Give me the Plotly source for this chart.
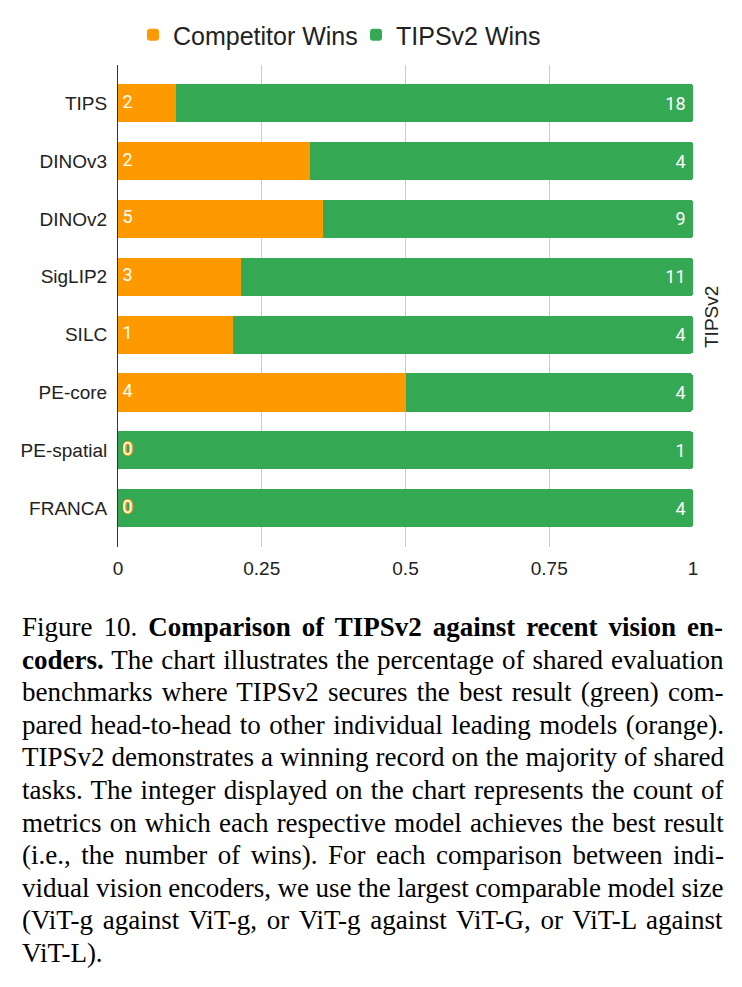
import plotly.graph_objects as go

# ---------------- data ----------------
models = ["TIPS", "DINOv3", "DINOv2", "SigLIP2", "SILC", "PE-core", "PE-spatial", "FRANCA"]
competitor_wins = [2, 2, 5, 3, 1, 4, 0, 0]
tipsv2_wins = [18, 4, 9, 11, 4, 4, 1, 4]
x_tick_vals = [0, 0.25, 0.5, 0.75, 1]
x_tick_text = ["0", "0.25", "0.5", "0.75", "1"]
series_names = ["Competitor Wins", "TIPSv2 Wins"]
right_label = "TIPSv2"

caption_lines = [
    [("Figure 10. ", False), ("Comparison of TIPSv2 against recent vision en-", True)],
    [("coders.", True), (" The chart illustrates the percentage of shared evaluation", False)],
    [("benchmarks where TIPSv2 secures the best result (green) com-", False)],
    [("pared head-to-head to other individual leading models (orange).", False)],
    [("TIPSv2 demonstrates a winning record on the majority of shared", False)],
    [("tasks. The integer displayed on the chart represents the count of", False)],
    [("metrics on which each respective model achieves the best result", False)],
    [("(i.e., the number of wins). For each comparison between indi-", False)],
    [("vidual vision encoders, we use the largest comparable model size", False)],
    [("(ViT-g against ViT-g, or ViT-g against ViT-G, or ViT-L against", False)],
    [("ViT-L).", False)],
]

ORANGE = "#FF9900"
GREEN = "#34A853"

totals = [c + t for c, t in zip(competitor_wins, tipsv2_wins)]
comp_frac = [c / n for c, n in zip(competitor_wins, totals)]
tips_frac = [t / n for t, n in zip(tipsv2_wins, totals)]

W, H = 742, 987
ML, MR, MT, MB = 118, 49, 65, 440
PW = W - ML - MR
PH = H - MT - MB


def px_x(px):
    return (px - ML) / PW


def px_y(py):
    return 1 - (py - MT) / PH


fig = go.Figure()
fig.add_trace(go.Bar(
    y=models, x=comp_frac, orientation="h", name=series_names[0],
    marker=dict(color=ORANGE, line=dict(width=0)), hoverinfo="skip",
))
fig.add_trace(go.Bar(
    y=models, x=tips_frac, orientation="h", name=series_names[1],
    marker=dict(color=GREEN, line=dict(width=0)), hoverinfo="skip",
    text=[str(v) for v in tipsv2_wins], texttemplate="%{text} ",
    textposition="inside", insidetextanchor="end",
    textfont=dict(family="Roboto", size=18, color="white"),
))
fig.add_trace(go.Scatter(
    y=models, x=[0] * len(models), mode="text", showlegend=False, hoverinfo="skip",
    text=[" " + str(v) for v in competitor_wins], textposition="middle right",
    textfont=dict(family="Roboto", size=18, color="white",
                  shadow="1px 0 0 #FF9900, -1px 0 0 #FF9900, 0 1px 0 #FF9900, 0 -1px 0 #FF9900"),
    cliponaxis=False,
))

# ---------- caption (justified via word-spacing, Times metrics) ----------
REG = {" ": 250, "(": 333, ")": 333, ",": 250, "-": 333, ".": 250, ":": 278}
BOLD = {" ": 250, "(": 333, ")": 333, ",": 250, "-": 333, ".": 250, ":": 333}
for d in "0123456789":
    REG[d] = 500
    BOLD[d] = 500
REG.update(dict(zip("ABCDEFGHIJKLMNOPQRSTUVWXYZ",
                    [722, 667, 667, 722, 611, 556, 722, 722, 333, 389, 722, 611, 889, 722, 722, 556, 722, 667, 556, 611, 722, 722, 944, 722, 722, 611])))
REG.update(dict(zip("abcdefghijklmnopqrstuvwxyz",
                    [444, 500, 444, 500, 444, 333, 500, 500, 278, 278, 500, 278, 778, 500, 500, 500, 500, 333, 389, 278, 500, 500, 722, 500, 500, 444])))
BOLD.update(dict(zip("ABCDEFGHIJKLMNOPQRSTUVWXYZ",
                     [722, 667, 722, 722, 667, 611, 778, 778, 389, 500, 778, 667, 944, 722, 778, 611, 778, 722, 556, 667, 722, 722, 1000, 722, 722, 667])))
BOLD.update(dict(zip("abcdefghijklmnopqrstuvwxyz",
                     [500, 556, 444, 556, 444, 333, 500, 556, 278, 333, 556, 278, 833, 556, 500, 556, 556, 444, 389, 333, 556, 500, 722, 500, 500, 444])))
KERN = {"Vi": -163}

CAP_FS = 27
CAP_LEFT, CAP_RIGHT = 20, 722
CAP_Y0, CAP_DY = 627, 32.6


def seg_width(text, bold):
    table = BOLD if bold else REG
    w = sum(table.get(ch, 500) for ch in text)
    w += sum(KERN.get(text[k:k + 2], 0) for k in range(len(text) - 1))
    return w * CAP_FS / 1000.0


annotations = []
for i, segs in enumerate(caption_lines):
    natural = sum(seg_width(t, b) for t, b in segs)
    nsp = sum(t.count(" ") for t, b in segs)
    last = i == len(caption_lines) - 1
    ws = 0 if last or nsp == 0 else (CAP_RIGHT - CAP_LEFT - natural) / nsp
    inner = "".join(("<b>%s</b>" % t) if b else t for t, b in segs)
    html = '<span style="word-spacing:%.2fpx">%s</span>' % (ws, inner)
    annotations.append(dict(
        text=html, xref="paper", yref="paper",
        x=px_x(CAP_LEFT), y=px_y(CAP_Y0 + i * CAP_DY),
        xanchor="left", yanchor="middle", showarrow=False,
        font=dict(family="Liberation Serif", size=CAP_FS, color="#000000"),
    ))

annotations.append(dict(
    text=right_label, xref="paper", yref="paper", x=px_x(711), y=px_y(317),
    xanchor="center", yanchor="middle", textangle=-90, showarrow=False,
    font=dict(family="Liberation Sans", size=19, color="#222222"),
))

fig.update_layout(
    width=W, height=H,
    margin=dict(l=ML, r=MR, t=MT, b=MB, pad=0),
    paper_bgcolor="white", plot_bgcolor="white",
    barmode="stack", bargap=0.34, barcornerradius=3,
    font=dict(family="Liberation Sans", color="#222222"),
    showlegend=True,
    legend=dict(orientation="h", x=px_x(133), xanchor="left", y=px_y(35), yanchor="middle",
                font=dict(family="Liberation Sans", size=25, color="#222222"),
                entrywidth=178, entrywidthmode="pixels",
                traceorder="normal", itemclick=False, bgcolor="rgba(0,0,0,0)"),
    xaxis=dict(range=[0, 1], tickvals=x_tick_vals, ticktext=x_tick_text,
               showgrid=True, gridcolor="#CCCCCC", gridwidth=1, zeroline=False,
               showline=False, ticks="", ticklabelstandoff=8,
               tickfont=dict(family="Liberation Sans", size=19, color="#222222"),
               fixedrange=True),
    yaxis=dict(categoryorder="array", categoryarray=models,
               range=[len(models) - 1 + 0.67, -0.66],
               showline=True, linecolor="#333333", linewidth=1, showgrid=False,
               zeroline=False, ticks="", ticklabelstandoff=6,
               tickfont=dict(family="Liberation Sans", size=19, color="#222222"),
               fixedrange=True),
    annotations=annotations,
)

fig.write_html("out.html")
